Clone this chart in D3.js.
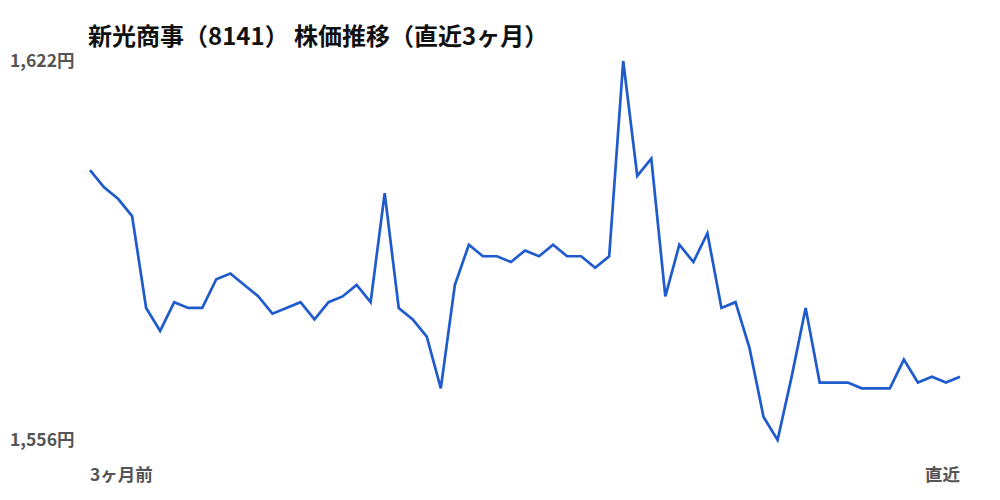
<!DOCTYPE html>
<html>
<head>
    <meta charset="utf-8">
    <title>新光商事 株価推移</title>
    <style>
        body { margin: 0; background: #fff; }
        text { font-family: "Noto Sans CJK JP", "Noto Sans", sans-serif; font-weight: bold; }
    </style>
    <script src="https://cdn.jsdelivr.net/npm/d3@7"></script>
</head>
<body>
<script>

    // 終値（直近3ヶ月、画像から読み取り）
    var prices = [1603, 1600, 1598, 1595, 1579, 1575, 1580, 1579, 1579, 1584,
        1585, 1583, 1581, 1578, 1579, 1580, 1577, 1580, 1581, 1583,
        1580, 1599, 1579, 1577, 1574, 1565, 1583, 1590, 1588, 1588,
        1587, 1589, 1588, 1590, 1588, 1588, 1586, 1588, 1622, 1602,
        1605, 1581, 1590, 1587, 1592, 1579, 1580, 1572, 1560, 1556,
        1567, 1579, 1566, 1566, 1566, 1565, 1565, 1565, 1570, 1566,
        1567, 1566, 1567]
    var yTicks = [1622, 1556]
    var xLabels = ['3ヶ月前', '直近']
    var title = '新光商事（8141） 株価推移（直近3ヶ月）'

    var view_width = 1000,
        view_height = 500

    var svg = d3.select('body').append('svg')
        .attr('width', view_width)
        .attr('height', view_height)

    var x = d3.scaleLinear()
        .domain([0, prices.length - 1])
        .range([90, 960])
    var y = d3.scaleLinear()
        .domain([d3.min(prices), d3.max(prices)])
        .range([440, 61])

    svg.append('text')
        .attr('x', 88)
        .attr('y', 45)
        .attr('font-size', 24)
        .attr('fill', '#111')
        .text(title)

    // y labels (max / min only)
    svg.selectAll('.ylab').data(yTicks).enter().append('text')
        .attr('class', 'ylab')
        .attr('x', 10)
        .attr('y', function (d) { return y(d) + 1 })
        .attr('dominant-baseline', 'middle')
        .attr('font-size', 17.5)
        .attr('fill', '#555')
        .text(function (d) { return d3.format(',')(d) + '円' })

    svg.selectAll('.xlab').data(xLabels).enter().append('text')
        .attr('class', 'xlab')
        .attr('x', function (d, i) { return i === 0 ? x(0) : x(prices.length - 1) })
        .attr('y', 481)
        .attr('text-anchor', function (d, i) { return i === 0 ? 'start' : 'end' })
        .attr('font-size', 17.5)
        .attr('fill', '#555')
        .text(function (d) { return d })

    var line = d3.line()
        .x(function (d, i) { return x(i) })
        .y(function (d) { return y(d) })

    svg.append('path')
        .datum(prices)
        .attr('d', line)
        .attr('fill', 'none')
        .attr('stroke', '#1f5bcc')
        .attr('stroke-width', 2.7)

</script>
</body>
</html>
